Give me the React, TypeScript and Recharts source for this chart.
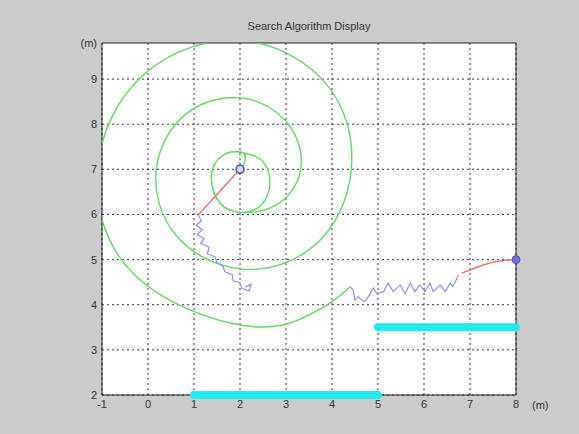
import React from "react";
import {
  ComposedChart,
  Line,
  Scatter,
  XAxis,
  YAxis,
  CartesianGrid,
  ReferenceArea,
} from "recharts";

const xTicks = [-1, 0, 1, 2, 3, 4, 5, 6, 7, 8];
const yTicks = [2, 3, 4, 5, 6, 7, 8, 9, 9.8];
const yTickLabels: Record<string, string> = { "9.8": "(m)" };

// green search spiral
const spiral = [
  { x: 2.04, y: 7.0 },
  { x: 2.1, y: 7.33 },
  { x: 1.78, y: 7.38 },
  { x: 1.47, y: 7.15 },
  { x: 1.38, y: 6.74 },
  { x: 1.55, y: 6.27 },
  { x: 1.98, y: 6.05 },
  { x: 2.45, y: 6.2 },
  { x: 2.65, y: 6.72 },
  { x: 2.47, y: 7.2 },
  { x: 2.1, y: 7.36 },
  { x: 1.78, y: 7.38 },
  { x: 1.47, y: 7.15 },
  { x: 1.38, y: 6.74 },
  { x: 1.55, y: 6.27 },
  { x: 1.98, y: 6.05 },
  { x: 2.8, y: 6.22 },
  { x: 3.32, y: 7.0 },
  { x: 3.05, y: 8.0 },
  { x: 2.05, y: 8.58 },
  { x: 0.83, y: 8.23 },
  { x: 0.18, y: 7.0 },
  { x: 0.6, y: 5.55 },
  { x: 2.05, y: 4.79 },
  { x: 3.66, y: 5.35 },
  { x: 4.42, y: 7.0 },
  { x: 3.9, y: 8.86 },
  { x: 2.05, y: 9.85 },
  { x: -0.07, y: 9.12 },
  { x: -1.1, y: 7.0 },
  { x: -0.29, y: 4.66 },
  { x: 2.08, y: 3.54 },
  { x: 3.41, y: 3.73 },
  { x: 4.0, y: 4.07 },
  { x: 4.4, y: 4.4 },
];

// left robot: red approach + blue wander
const redLeft = [
  { x: 2.0, y: 7.0 },
  { x: 1.09, y: 5.99 },
];
const blueLeft = [
  { x: 1.09, y: 5.99 },
  { x: 1.16, y: 5.86 },
  { x: 1.05, y: 5.76 },
  { x: 1.18, y: 5.66 },
  { x: 1.07, y: 5.56 },
  { x: 1.22, y: 5.46 },
  { x: 1.14, y: 5.36 },
  { x: 1.33, y: 5.28 },
  { x: 1.29, y: 5.13 },
  { x: 1.46, y: 5.06 },
  { x: 1.5, y: 4.93 },
  { x: 1.63, y: 4.86 },
  { x: 1.67, y: 4.73 },
  { x: 1.83, y: 4.67 },
  { x: 1.85, y: 4.53 },
  { x: 2.0, y: 4.49 },
  { x: 2.04, y: 4.36 },
  { x: 2.2, y: 4.31 },
  { x: 2.24, y: 4.45 },
  { x: 2.12, y: 4.39 },
];

// right robot: red approach + blue wander
const redRight = [
  { x: 8.0, y: 5.0 },
  { x: 7.58, y: 4.96 },
  { x: 7.29, y: 4.88 },
  { x: 7.0, y: 4.77 },
  { x: 6.82, y: 4.7 },
];
const blueRight = [
  { x: 6.75, y: 4.66 },
  { x: 6.68, y: 4.51 },
  { x: 6.62, y: 4.4 },
  { x: 6.57, y: 4.48 },
  { x: 6.46, y: 4.29 },
  { x: 6.35, y: 4.44 },
  { x: 6.2, y: 4.29 },
  { x: 6.13, y: 4.48 },
  { x: 6.02, y: 4.29 },
  { x: 5.91, y: 4.44 },
  { x: 5.8, y: 4.29 },
  { x: 5.7, y: 4.48 },
  { x: 5.59, y: 4.25 },
  { x: 5.48, y: 4.44 },
  { x: 5.33, y: 4.29 },
  { x: 5.22, y: 4.48 },
  { x: 5.12, y: 4.29 },
  { x: 4.97, y: 4.25 },
  { x: 4.9, y: 4.37 },
  { x: 4.75, y: 4.11 },
  { x: 4.68, y: 4.07 },
  { x: 4.57, y: 4.18 },
  { x: 4.5, y: 4.1 },
  { x: 4.46, y: 4.33 },
  { x: 4.39, y: 4.4 },
];

// cyan walls
const wallBottom = [
  { x: 1, y: 2 },
  { x: 5, y: 2 },
];
const wallRight = [
  { x: 5, y: 3.5 },
  { x: 8, y: 3.5 },
];

const startLeft = [{ x: 2.0, y: 7.0 }];
const startRight = [{ x: 8.0, y: 5.0 }];

const tickStyle = { fontSize: 11, fill: "#333", fontFamily: "Liberation Sans, Arial, sans-serif" };

export default function App() {
  return (
    <div
      style={{
        position: "fixed",
        left: 0,
        top: 0,
        width: 579,
        height: 434,
        background: "#cbcbcb",
        overflow: "hidden",
      }}
    >
      <div
        style={{
          position: "absolute",
          left: 102,
          width: 414,
          top: 20,
          textAlign: "center",
          fontFamily: "Liberation Sans, Arial, sans-serif",
          fontSize: 11,
          color: "#333",
        }}
      >
        Search Algorithm Display
      </div>
      <div style={{ position: "absolute", left: 0, top: 0 }}>
        <ComposedChart
          width={579}
          height={434}
          margin={{ top: 43, right: 63, bottom: 19, left: 72 }}
        >
          <XAxis
            xAxisId="a"
            type="number"
            dataKey="x"
            domain={[-1, 8]}
            ticks={xTicks}
            allowDataOverflow
            height={20}
            tickLine={false}
            tickSize={3}
            tickMargin={2}
            axisLine={false}
            tick={tickStyle}
            label={{ value: "(m)", position: "right", offset: 16, style: tickStyle }}
          />
          <YAxis
            yAxisId="a"
            type="number"
            domain={[2, 9.8]}
            ticks={yTicks}
            allowDataOverflow
            width={30}
            tickLine={false}
            tickSize={3}
            tickMargin={2}
            axisLine={false}
            tick={tickStyle}
            tickFormatter={(v: number) => yTickLabels[String(v)] ?? String(v)}
          />
          <XAxis xAxisId="b" type="number" dataKey="x" domain={[-1, 8]} hide />
          <YAxis yAxisId="b" type="number" domain={[2, 9.8]} hide />
          <CartesianGrid
            xAxisId="a"
            yAxisId="a"
            fill="#ffffff"
            stroke="#333"
            strokeDasharray="2 3"
            verticalValues={xTicks}
            horizontalValues={[2, 3, 4, 5, 6, 7, 8, 9]}
          />
          <ReferenceArea
            xAxisId="a"
            yAxisId="a"
            x1={-1}
            x2={8}
            y1={2}
            y2={9.8}
            fill="none"
            fillOpacity={0}
            stroke="#222"
            strokeWidth={1}
          />
          <Line
            xAxisId="a"
            yAxisId="a"
            data={spiral}
            dataKey="y"
            type="natural"
            stroke="#5fd85f"
            strokeWidth={1.4}
            dot={false}
            isAnimationActive={false}
          />
          <Line
            xAxisId="b"
            yAxisId="b"
            data={blueLeft}
            dataKey="y"
            type="linear"
            stroke="#8c90e6"
            strokeWidth={1.2}
            dot={false}
            isAnimationActive={false}
          />
          <Line
            xAxisId="b"
            yAxisId="b"
            data={blueRight}
            dataKey="y"
            type="linear"
            stroke="#8c90e6"
            strokeWidth={1.2}
            dot={false}
            isAnimationActive={false}
          />
          <Line
            xAxisId="b"
            yAxisId="b"
            data={redLeft}
            dataKey="y"
            type="linear"
            stroke="#f07272"
            strokeWidth={1.5}
            dot={false}
            isAnimationActive={false}
          />
          <Line
            xAxisId="b"
            yAxisId="b"
            data={redRight}
            dataKey="y"
            type="natural"
            stroke="#f07272"
            strokeWidth={1.5}
            dot={false}
            isAnimationActive={false}
          />
          <Line
            xAxisId="b"
            yAxisId="b"
            data={wallBottom}
            dataKey="y"
            type="linear"
            stroke="#22eaee"
            strokeWidth={8}
            strokeLinecap="round"
            dot={false}
            isAnimationActive={false}
          />
          <Line
            xAxisId="b"
            yAxisId="b"
            data={wallRight}
            dataKey="y"
            type="linear"
            stroke="#22eaee"
            strokeWidth={8}
            strokeLinecap="round"
            dot={false}
            isAnimationActive={false}
          />
          <Scatter
            xAxisId="b"
            yAxisId="b"
            data={startLeft}
            dataKey="y"
            isAnimationActive={false}
            shape={(p: any) => (
              <circle cx={p.cx} cy={p.cy} r={4} fill="#d6d9f4" stroke="#3d4cb0" strokeWidth={1.5} />
            )}
          />
          <Scatter
            xAxisId="b"
            yAxisId="b"
            data={startRight}
            dataKey="y"
            isAnimationActive={false}
            shape={(p: any) => (
              <circle cx={p.cx} cy={p.cy} r={4} fill="#6b72d8" stroke="#4a54c0" strokeWidth={1} />
            )}
          />
        </ComposedChart>
      </div>
    </div>
  );
}
